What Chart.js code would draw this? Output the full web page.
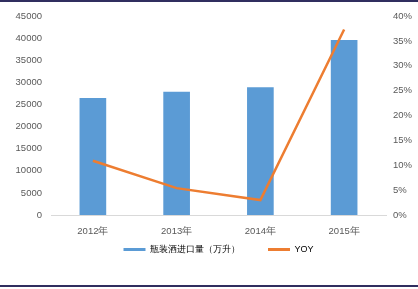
<!DOCTYPE html>
<html>
<head>
<meta charset="utf-8">
<script src="https://cdn.jsdelivr.net/npm/chart.js@4"></script>
<style>
  body { margin: 0; background: #fff; }
  #wrap { position: relative; width: 418px; height: 289px; }
  #top { position: absolute; left: 0; top: 0; width: 418px; height: 2px; background: #302e5f; }
  #bottom { position: absolute; left: 0; top: 285px; width: 418px; height: 2px; background: #302e5f; }
</style>
</head>
<body>
<div id="wrap">
  <canvas id="chart" width="418" height="289"></canvas>
  <div id="top"></div>
  <div id="bottom"></div>
</div>
<script>
// data
const years = ["2012年", "2013年", "2014年", "2015年"];
const imports = [26400, 27800, 28800, 39500];   // 瓶装酒进口量（万升）
const yoy = [0.109, 0.054, 0.030, 0.373];

const grey = "#595959";
Chart.defaults.font.family = "'Liberation Sans', Arial, sans-serif";
Chart.defaults.font.size = 9.5;
Chart.defaults.color = grey;

const ctx = document.getElementById("chart");

new Chart(ctx, {
  type: "bar",
  data: {
    labels: years,
    datasets: [
      {
        type: "line",
        label: "YOY",
        data: yoy,
        yAxisID: "y1",
        borderColor: "#ed7d31",
        backgroundColor: "#ed7d31",
        borderWidth: 2.5,
        pointRadius: 0,
        tension: 0,
        order: 1,
      },
      {
        label: "瓶装酒进口量（万升）",
        data: imports,
        yAxisID: "y",
        backgroundColor: "#5b9bd5",
        borderColor: "#5b9bd5",
        barThickness: 26,
        order: 2,
      },
    ],
  },
  options: {
    responsive: false,
    animation: false,
    layout: { padding: { top: 16, bottom: 25 } },
    plugins: {
      tooltip: { enabled: false },
      legend: {
        position: "bottom",
        fullSize: false,
        reverse: true,
        labels: {
          boxWidth: 22,
          boxHeight: 3,
          padding: 28,
          color: grey,
          font: { size: 9 },
          generateLabels: (chart) =>
            chart.data.datasets.map((ds, i) => ({
              text: ds.label,
              fillStyle: ds.type === "line" ? ds.borderColor : ds.backgroundColor,
              strokeStyle: ds.type === "line" ? ds.borderColor : ds.backgroundColor,
              lineWidth: 0,
              datasetIndex: i,
            })),
        },
      },
    },
    scales: {
      x: {
        grid: { display: false, drawTicks: false },
        border: { color: "#d9d9d9", width: 1 },
        ticks: { padding: 11 },
        afterFit: (scale) => {
          scale.height = 2;
          // labels sit in the legend's top padding, so don't clip them
          scale._computeLabelArea = () => undefined;
        },
      },
      y: {
        position: "left",
        min: 0,
        max: 45000,
        grid: { display: false, drawTicks: false },
        border: { display: false },
        ticks: { stepSize: 5000, padding: 9, callback: (v) => String(v) },
        afterFit: (scale) => { scale.width = 51; },
      },
      y1: {
        position: "right",
        min: 0,
        max: 0.4,
        grid: { display: false, drawTicks: false },
        border: { display: false },
        ticks: {
          stepSize: 0.05,
          padding: 7,
          callback: (v) => Math.round(v * 100) + "%",
        },
        afterFit: (scale) => { scale.width = 32; },
      },
    },
  },
});
</script>
</body>
</html>
